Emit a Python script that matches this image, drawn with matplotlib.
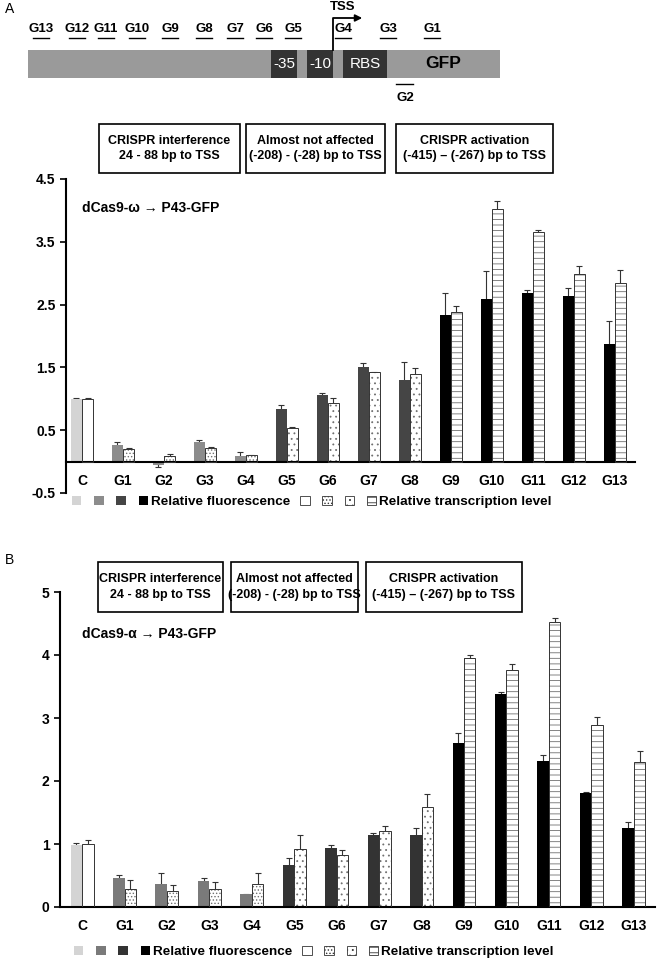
import numpy as np
import matplotlib
matplotlib.use('Agg')
import matplotlib.pyplot as plt
from matplotlib.patches import Rectangle, Patch

plt.rcParams['font.family'] = ['Liberation Sans', 'DejaVu Sans']
plt.rcParams['font.weight'] = 'bold'
plt.rcParams['hatch.linewidth'] = 0.6

cats = ['C', 'G1', 'G2', 'G3', 'G4', 'G5', 'G6', 'G7', 'G8', 'G9', 'G10', 'G11', 'G12', 'G13']
groups = [0, 1, 1, 1, 1, 2, 2, 2, 2, 3, 3, 3, 3, 3]

# panel A: dCas9-omega
fluor_a = [1.00, 0.27, -0.06, 0.32, 0.085, 0.84, 1.06, 1.50, 1.30, 2.34, 2.59, 2.68, 2.64, 1.87]
fluor_a_err = [0.01, 0.04, 0.02, 0.03, 0.06, 0.06, 0.03, 0.07, 0.28, 0.35, 0.44, 0.05, 0.13, 0.37]
trans_a = [1.00, 0.20, 0.085, 0.22, 0.10, 0.53, 0.93, 1.42, 1.40, 2.38, 4.02, 3.65, 2.98, 2.84]
trans_a_err = [0.02, 0.01, 0.04, 0.01, 0.01, 0.02, 0.09, 0.01, 0.09, 0.10, 0.13, 0.04, 0.13, 0.21]

# panel B: dCas9-alpha
fluor_b = [0.99, 0.46, 0.37, 0.41, 0.20, 0.66, 0.94, 1.14, 1.15, 2.61, 3.38, 2.31, 1.81, 1.25]
fluor_b_err = [0.02, 0.05, 0.17, 0.05, 0.01, 0.11, 0.04, 0.04, 0.10, 0.15, 0.03, 0.10, 0.02, 0.10]
trans_b = [1.00, 0.29, 0.25, 0.29, 0.36, 0.92, 0.82, 1.20, 1.59, 3.95, 3.76, 4.53, 2.89, 2.30]
trans_b_err = [0.07, 0.14, 0.095, 0.11, 0.18, 0.22, 0.09, 0.09, 0.20, 0.05, 0.09, 0.05, 0.12, 0.18]

box_texts = ['CRISPR interference\n24 - 88 bp to TSS',
             'Almost not affected\n(-208) - (-28) bp to TSS',
             'CRISPR activation\n(-415) – (-267) bp to TSS']

site_labels = ['G13', 'G12', 'G11', 'G10', 'G9', 'G8', 'G7', 'G6', 'G5', 'G4', 'G3', 'G1']
site_x = [41, 77, 106, 137, 170, 204, 235, 264, 293, 343, 388, 432]

hatches = ['', '.....', '...', '---']

fig = plt.figure(figsize=(6.63, 9.6), dpi=100)

# overlay in pixel coordinates for the promoter diagram and the boxes
ov = fig.add_axes([0, 0, 1, 1], zorder=-1)
ov.set_xlim(0, 663)
ov.set_ylim(960, 0)
ov.axis('off')

ov.text(5, 9, 'A', fontsize=10, weight='normal', va='center')
ov.text(5, 560, 'B', fontsize=10, weight='normal', va='center')

ov.add_patch(Rectangle((28, 50), 472, 28, fc='#9a9a9a', ec='none'))
for x0, w, t in [(271, 26, '-35'), (307, 26, '-10'), (343, 44, 'RBS')]:
    ov.add_patch(Rectangle((x0, 50), w, 28, fc='#333333', ec='none'))
    ov.text(x0 + w / 2, 64, t, color='white', fontsize=11, weight='normal',
            ha='center', va='center')
ov.text(443, 64, 'GFP', fontsize=12.5, ha='center', va='center')
ov.plot([333, 333, 356], [50, 18, 18], color='k', lw=1.3)
ov.annotate('', xy=(365, 18), xytext=(352, 18),
            arrowprops=dict(arrowstyle='-|>', color='k', lw=1.3, mutation_scale=10))
ov.text(343, 7, 'TSS', fontsize=9.5, ha='center', va='center')
for lab, x in zip(site_labels, site_x):
    ov.text(x, 29, lab, fontsize=9.5, ha='center', va='center')
    ov.plot([x - 8, x + 8], [38, 38], color='k', lw=1.0)
ov.text(405, 98, 'G2', fontsize=9.5, ha='center', va='center')
ov.plot([396, 413], [84, 84], color='k', lw=1.0)


def draw_boxes(boxes, y0, y1):
    for (x0, x1), t in zip(boxes, box_texts):
        ov.add_patch(Rectangle((x0, y0), x1 - x0, y1 - y0, fc='white', ec='k', lw=1.2))
        ov.text((x0 + x1) / 2, (y0 + y1) / 2, t, fontsize=9, ha='center', va='center',
                linespacing=1.35)


draw_boxes([(99, 240), (246, 385), (396, 553)], 124, 173)
draw_boxes([(98, 223), (231, 358), (366, 522)], 562, 612)


def panel(rect, fluor, ferr, trans, terr, fcols, title, title_xy, xlim, ylim, yticks, fmt, leg_xy):
    ax = fig.add_axes(rect)
    x = np.arange(len(cats))
    w = 0.27
    ax.errorbar(x - w / 2, fluor, yerr=ferr, fmt='none', ecolor='#333333',
                elinewidth=0.8, capsize=2.5, capthick=0.8, zorder=1)
    ax.errorbar(x + w / 2, trans, yerr=terr, fmt='none', ecolor='#333333',
                elinewidth=0.8, capsize=2.5, capthick=0.8, zorder=1)
    ax.bar(x - w / 2, fluor, w, color=[fcols[g] for g in groups], edgecolor='none', zorder=2)
    for i in range(len(cats)):
        # hatch in grey, then a darker outline on top
        ax.bar(x[i] + w / 2, trans[i], w, color='white', edgecolor='#707070',
               hatch=hatches[groups[i]], lw=0, zorder=2)
        ax.bar(x[i] + w / 2, trans[i], w, fill=False, edgecolor='#333333', lw=0.7, zorder=3)
    ax.set_xlim(*xlim)
    ax.set_ylim(*ylim)
    ax.set_yticks(yticks)
    ax.set_yticklabels([fmt % v for v in yticks])
    ax.set_xticks(x)
    ax.set_xticklabels(cats)
    ax.tick_params(axis='x', length=0, pad=9, labelsize=10)
    ax.tick_params(axis='y', length=4, width=1.2, labelsize=10)
    for s in ['top', 'right']:
        ax.spines[s].set_visible(False)
    ax.spines['left'].set_linewidth(1.5)
    ax.spines['bottom'].set_linewidth(1.5)
    ax.spines['bottom'].set_position(('data', 0))
    ax.patch.set_alpha(0)
    ax.text(title_xy[0], title_xy[1], title, transform=ax.transAxes, fontsize=10, va='center')

    handles = [Patch(fc=c, ec='none') for c in fcols]
    handles += [Patch(fc='white', ec='#333333', hatch=h, lw=0.6) for h in hatches]
    labels = ['', '', '', 'Relative fluorescence', '', '', '', 'Relative transcription level']
    fig.legend(handles, labels, ncol=8, loc='center left',
               bbox_to_anchor=(leg_xy[0] / 663, 1 - leg_xy[1] / 960),
               frameon=False, fontsize=9.7, handlelength=0.7, handleheight=0.7,
               handletextpad=0.2, columnspacing=0.75, borderpad=0, borderaxespad=0)
    return ax


panel([66 / 663, 1 - 493 / 960, 569 / 663, 314 / 960], fluor_a, fluor_a_err, trans_a, trans_a_err,
      ['#d4d4d4', '#8c8c8c', '#454545', '#000000'], 'dCas9-ω → P43-GFP', (0.028, 0.908),
      (-0.39, 13.49), (-0.5, 4.5), np.arange(-0.5, 4.6, 1.0), '%.1f', (72, 502))
panel([60 / 663, 1 - 907 / 960, 595 / 663, 315 / 960], fluor_b, fluor_b_err, trans_b, trans_b_err,
      ['#d4d4d4', '#7a7a7a', '#333333', '#000000'], 'dCas9-α → P43-GFP', (0.037, 0.867),
      (-0.52, 13.5), (0, 5), np.arange(0, 6, 1), '%d', (74, 952))

plt.savefig('out.png', dpi=100)
